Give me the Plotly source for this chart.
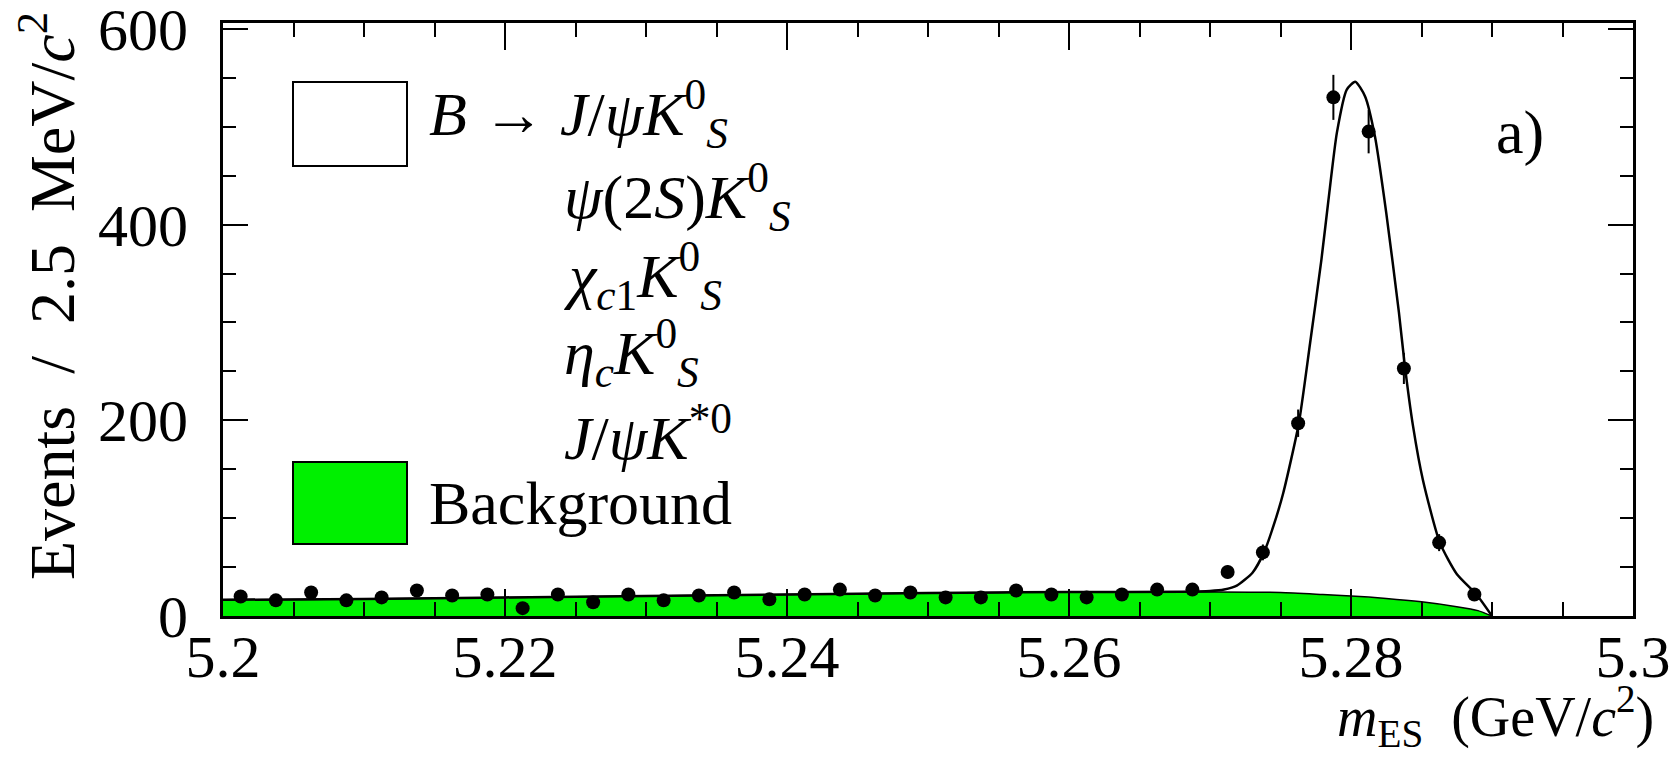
import plotly.graph_objects as go

# ---------------- data ----------------
bin_centers = [5.20125, 5.20375, 5.20625, 5.20875, 5.21125, 5.21375, 5.21625, 5.21875,
               5.22125, 5.22375, 5.22625, 5.22875, 5.23125, 5.23375, 5.23625, 5.23875,
               5.24125, 5.24375, 5.24625, 5.24875, 5.25125, 5.25375, 5.25625, 5.25875,
               5.26125, 5.26375, 5.26625, 5.26875, 5.27125, 5.27375, 5.27625, 5.27875,
               5.28125, 5.28375, 5.28625, 5.28875]
counts = [20, 16, 24, 16, 19, 26, 21, 22, 8, 22,
          14, 22, 16, 21, 24, 17, 22, 27, 21, 24,
          19, 19, 26, 22, 19, 22, 27, 27, 45, 65,
          197, 530, 495, 253, 75, 22]
errors = [4.5, 4.0, 4.9, 4.0, 4.4, 5.1, 4.6, 4.7, 2.8, 4.7,
          3.7, 4.7, 4.0, 4.6, 4.9, 4.1, 4.7, 5.2, 4.6, 4.9,
          4.4, 4.4, 5.1, 4.7, 4.4, 4.7, 5.2, 5.2, 6.7, 8.1,
          14.0, 23.0, 22.2, 15.9, 8.7, 4.7]

bkg_x = [5.200, 5.210, 5.220, 5.230, 5.240, 5.250, 5.260, 5.270, 5.275, 5.278,
         5.280, 5.2825, 5.285, 5.2875, 5.289, 5.290]
bkg_y = [16.5, 17.5, 19.0, 20.5, 22.0, 23.5, 24.5, 24.5, 24.0, 22.0,
         20.5, 18.0, 14.5, 9.5, 5.5, 0.0]

fit_x = [5.200, 5.210, 5.220, 5.230, 5.240, 5.250, 5.260, 5.268, 5.2700, 5.2710,
         5.2719, 5.2730, 5.2738, 5.2745, 5.2752, 5.2763, 5.2771, 5.2779, 5.2784, 5.2790,
         5.2797, 5.2803, 5.2810, 5.2817, 5.2825, 5.2834, 5.2838, 5.2844, 5.2851, 5.2863,
         5.2875, 5.2889, 5.2900]
fit_y = [16.5, 17.5, 19.0, 20.5, 22.0, 23.5, 24.5, 24.8, 25.5, 27.0,
         31.0, 44.0, 64.0, 92.0, 126.0, 197.0, 279.0, 364.0, 425.0, 494.0,
         538.0, 546.0, 531.0, 490.0, 412.0, 310.0, 258.0, 194.0, 139.0, 75.0,
         43.0, 22.0, 0.0]

x_range = [5.2, 5.3]
y_range = [0, 606]
y_ticks = [0, 200, 400, 600]
x_ticks = [5.2, 5.22, 5.24, 5.26, 5.28, 5.3]
x_ticklabels = ["5.2", "5.22", "5.24", "5.26", "5.28", "5.3"]

legend_lines = ["<i>B</i> \u2192 <i>J</i>/<i>\u03c8</i><i>K</i><sup>0</sup><sub><i>S</i></sub>",
                "<i>\u03c8</i>(2<i>S</i>)<i>K</i><sup>0</sup><sub><i>S</i></sub>",
                "<i>\u03c7</i><sub><i>c</i>1</sub><i>K</i><sup>0</sup><sub><i>S</i></sub>",
                "<i>\u03b7</i><sub><i>c</i></sub><i>K</i><sup>0</sup><sub><i>S</i></sub>",
                "<i>J</i>/<i>\u03c8</i><i>K</i><sup>*0</sup>"]

# ---------------- layout geometry (pixels) ----------------
W, H = 1680, 757
L, R, T, B = 223, 1633, 23, 616
PW, PH = R - L, B - T


def px(xp):
    return (xp - L) / PW


def py(yp):
    return (B - yp) / PH


FONT = "Liberation Serif, Times New Roman, serif"
GREEN = "#00f000"

fig = go.Figure()

# background (filled)
fig.add_trace(go.Scatter(x=bkg_x, y=bkg_y, mode="lines", fill="tozeroy",
                         fillcolor=GREEN, line=dict(color="black", width=1.5, shape="spline", smoothing=0.6),
                         hoverinfo="skip", showlegend=False))
# total fit
fig.add_trace(go.Scatter(x=fit_x, y=fit_y, mode="lines",
                         line=dict(color="black", width=2.5, shape="spline", smoothing=0.6),
                         showlegend=False))
# data points
fig.add_trace(go.Scatter(x=bin_centers, y=counts, mode="markers",
                         marker=dict(color="black", size=14),
                         error_y=dict(type="data", array=errors, color="black", thickness=2, width=0),
                         showlegend=False))

axis_common = dict(showgrid=False, zeroline=False, showline=True, linecolor="black", linewidth=3,
                   mirror="allticks", ticks="inside", tickcolor="black", tickwidth=2,
                   automargin=False, ticklabeloverflow="allow",
                   tickfont=dict(family=FONT, size=60, color="black"))

fig.update_xaxes(range=x_range, tickvals=x_ticks, ticktext=x_ticklabels, ticklen=27,
                 ticklabelstandoff=-14,
                 minor=dict(dtick=0.005, ticklen=14, tickcolor="black", tickwidth=2, ticks="inside"),
                 **axis_common)
fig.update_yaxes(range=y_range, tickvals=y_ticks, ticklen=25, ticklabelstandoff=20,
                 minor=dict(dtick=50, ticklen=13, tickcolor="black", tickwidth=2, ticks="inside"),
                 **axis_common)

shapes = [
    dict(type="rect", xref="paper", yref="paper", x0=px(293), x1=px(407), y0=py(166), y1=py(82),
         line=dict(color="black", width=2), fillcolor="white", layer="above"),
    dict(type="rect", xref="paper", yref="paper", x0=px(293), x1=px(407), y0=py(544), y1=py(462),
         line=dict(color="black", width=2), fillcolor=GREEN, layer="above"),
]

ann = []
TXT = dict(family=FONT, size=62, color="black")
ann.append(dict(text=legend_lines[0], x=px(427), y=py(114), xref="paper", yref="paper",
                xanchor="left", yanchor="middle", showarrow=False, font=TXT))
ys = [197, 275, 352, 433]
for t, yy in zip(legend_lines[1:], ys):
    ann.append(dict(text=t, x=px(562), y=py(yy), xref="paper", yref="paper",
                    xanchor="left", yanchor="middle", showarrow=False, font=TXT))
ann.append(dict(text="Background", x=px(427), y=py(503), xref="paper", yref="paper",
                xanchor="left", yanchor="middle", showarrow=False, font=TXT))
ann.append(dict(text="a)", x=px(1494), y=py(132), xref="paper", yref="paper",
                xanchor="left", yanchor="middle", showarrow=False, font=TXT))
# axis titles
ann.append(dict(text="Events  /  2.5  MeV/<i>c</i><sup>2</sup>", x=px(48), y=py(10), xref="paper", yref="paper",
                xanchor="center", yanchor="top", textangle=-90, showarrow=False,
                font=dict(family=FONT, size=64, color="black")))
ann.append(dict(text="<i>m</i><sub>ES</sub>  (GeV/<i>c</i><sup>2</sup>)", x=px(1656), y=py(716), xref="paper", yref="paper",
                xanchor="right", yanchor="middle", showarrow=False,
                font=dict(family=FONT, size=56, color="black")))

fig.update_layout(width=W, height=H, margin=dict(l=L, r=W - R, t=T, b=H - B, autoexpand=False),
                  plot_bgcolor="white", paper_bgcolor="white",
                  shapes=shapes, annotations=ann, showlegend=False)

fig.write_html("out.html")
